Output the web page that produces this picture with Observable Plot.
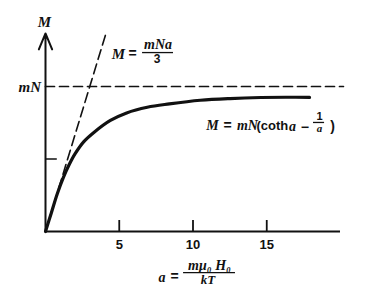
<!DOCTYPE html>
<html><head><meta charset="utf-8">
<script src="https://cdn.jsdelivr.net/npm/d3@7"></script>
<script src="https://cdn.jsdelivr.net/npm/@observablehq/plot@0.6"></script>
<style>body{margin:0;background:#fff} svg{display:block;background:#fff}</style>
</head><body><div id="chart"></div>
<script>
// Magnetization curve, M in units of mN
const curveA = [0, 0.4, 0.8, 1.2, 1.6, 2.0, 2.6, 3.3, 4.4, 5.5, 6.9, 8.4, 10.5, 12.5, 14.6, 16.3, 17.9];
const curveM = [0, 0.13, 0.26, 0.37, 0.46, 0.535, 0.62, 0.685, 0.766, 0.818, 0.857, 0.88, 0.905, 0.917, 0.924, 0.926, 0.925];
// Low-field asymptote M = mNa/3
const linearA = [0, 4.15];
const linearM = [0, 1.383];
// Saturation level M = mN
const saturationA = [0, 20.2];
const saturationM = [1, 1];
// Ticks
const xTicks = [5, 10, 15];
const xTickLabels = ["5", "10", "15"];
const yTicks = [0.5];
const yTop = 1.366;

// Text pieces (position in data units, font group, size)
const varLabels = [
  {a: -0.07, M: 1.441, t: "M", size: 15, anchor: "middle"},
  {a: -0.30, M: 0.993, t: "mN", size: 15, anchor: "end"},
  {a: 4.95, M: 1.224, t: "M", size: 15, anchor: "middle"},
  {a: 7.63, M: 1.290, t: "mNa", size: 14, anchor: "middle"},
  {a: 11.32, M: 0.731, t: "M", size: 14, anchor: "middle"},
  {a: 13.69, M: 0.731, t: "mN", size: 14, anchor: "middle"},
  {a: 16.75, M: 0.724, t: "a", size: 14, anchor: "middle"},
  {a: 18.58, M: 0.714, t: "a", size: 11, anchor: "middle"},
  {a: 7.90, M: -0.314, t: "a", size: 14, anchor: "middle"},
  {a: 11.12, M: -0.232, t: "mμ₀ H₀", size: 14, anchor: "middle"},
  {a: 11.02, M: -0.333, t: "kT", size: 13, anchor: "middle"}
];
const plainLabels = [
  {a: 5.90, M: 1.228, t: "=", size: 14, anchor: "middle"},
  {a: 7.56, M: 1.186, t: "3", size: 12, anchor: "middle"},
  {a: 12.34, M: 0.728, t: "=", size: 14, anchor: "middle"},
  {a: 14.30, M: 0.731, t: "(coth", size: 13, anchor: "start"},
  {a: 17.58, M: 0.717, t: "−", size: 14, anchor: "middle"},
  {a: 18.58, M: 0.796, t: "1", size: 11, anchor: "middle"},
  {a: 19.46, M: 0.724, t: ")", size: 14, anchor: "middle"},
  {a: 8.75, M: -0.310, t: "=", size: 14, anchor: "middle"}
];
const fractionBars = [
  {a1: 6.58, a2: 8.68, M: 1.234},
  {a1: 18.17, a2: 18.92, M: 0.752},
  {a1: 9.36, a2: 12.88, M: -0.283}
];

const curve = curveA.map((a, i) => ({a, M: curveM[i]}));
const linear = linearA.map((a, i) => ({a, M: linearM[i]}));
const saturation = saturationA.map((a, i) => ({a, M: saturationM[i]}));
const ink = "#111";
const anchors = ["start", "middle", "end"];
const textMarks = (labels, font) => anchors.map(anchor =>
  Plot.text(labels.filter(d => d.anchor === anchor), {x: "a", y: "M", text: "t", fontSize: "size",
    textAnchor: anchor, fill: ink, ...font}));

const chart = Plot.plot({
  width: 391, height: 300,
  marginLeft: 45, marginRight: 51, marginTop: 28, marginBottom: 69,
  x: {domain: [0, 20], axis: null},
  y: {domain: [0, 1.4], axis: null},
  style: {background: "#fff"},
  marks: [
    Plot.line(saturation, {x: "a", y: "M", stroke: ink, strokeWidth: 1.7, strokeDasharray: "9,5"}),
    Plot.line(linear, {x: "a", y: "M", stroke: ink, strokeWidth: 1.6, strokeDasharray: "10,5"}),
    Plot.line(curve, {x: "a", y: "M", curve: "catmull-rom", stroke: ink, strokeWidth: 3.2, strokeLinecap: "round"}),
    Plot.ruleY([0], {stroke: ink, strokeWidth: 2}),
    Plot.arrow([{a: 0, M0: 0, M1: yTop}], {x1: "a", y1: "M0", x2: "a", y2: "M1", stroke: ink, strokeWidth: 2, headLength: 13, headAngle: 45}),
    Plot.ruleX(xTicks.map(a => ({a, y1: 0, y2: 0.076})), {x: "a", y1: "y1", y2: "y2", stroke: ink, strokeWidth: 1.8}),
    Plot.ruleY(yTicks.map(M => ({M, x1: 0, x2: 0.8})), {y: "M", x1: "x1", x2: "x2", stroke: ink, strokeWidth: 1.5}),
    Plot.axisX(xTicks, {tickSize: 0, tickPadding: 8, label: null, tickFormat: d => xTickLabels[xTicks.indexOf(d)],
      fontSize: 13, fontWeight: "bold", fontFamily: "Liberation Sans", fill: ink}),
    Plot.ruleY(fractionBars, {y: "M", x1: "a1", x2: "a2", stroke: ink, strokeWidth: 1.3}),
    ...textMarks(varLabels, {fontFamily: "Liberation Serif", fontStyle: "italic", fontWeight: "bold"}),
    ...textMarks(plainLabels, {fontFamily: "Liberation Sans", fontWeight: "bold"})
  ]
});
document.getElementById("chart").appendChild(chart);
</script>
</body></html>
